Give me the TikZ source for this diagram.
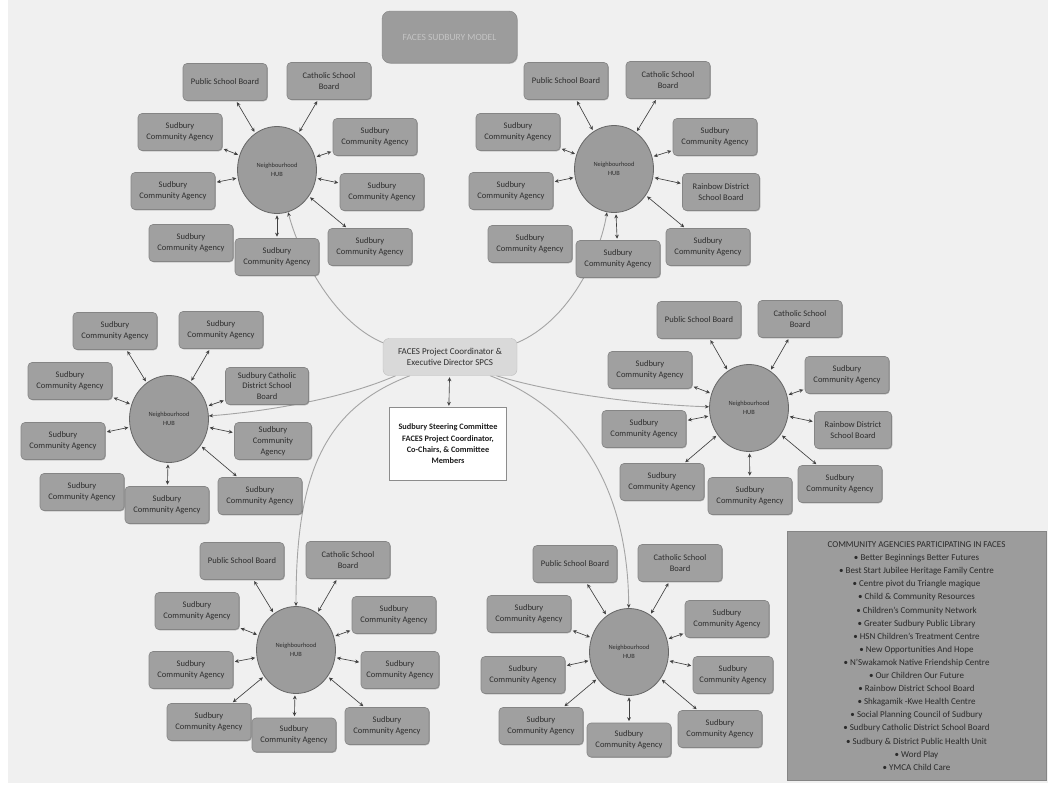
\documentclass[tikz,border=0pt]{standalone}
\usepackage{fontspec}
\setmainfont{Carlito}
\usetikzlibrary{arrows.meta,shapes.geometric,backgrounds,shadows}
\definecolor{bgc}{HTML}{F0F0F0}
\definecolor{boxfill}{HTML}{A0A0A0}
\definecolor{boxedge}{HTML}{858585}
\definecolor{hubfill}{HTML}{9C9C9C}
\definecolor{hubedge}{HTML}{666666}
\definecolor{txt}{HTML}{2E2E2E}
\definecolor{linec}{HTML}{404040}
\definecolor{curvec}{HTML}{A4A4A4}
\definecolor{titletxt}{HTML}{C4C4C4}
\definecolor{coordedge}{HTML}{BDBDBD}
\definecolor{coordfill}{HTML}{D9D9D9}
\definecolor{steeredge}{HTML}{8C8C8C}
\definecolor{steertxt}{HTML}{1E1E1E}
\definecolor{legfill}{HTML}{9C9C9C}
\definecolor{legtxt}{HTML}{2A2A2A}
\begin{document}
\begin{tikzpicture}[x=1pt,y=-1pt,
  agency/.style={draw=boxedge,fill=boxfill,line width=0.6pt,rounded corners=4pt,
    minimum width=84pt,minimum height=37pt,inner sep=1pt,align=center,text=txt,
    font=\fontsize{8.5}{10.8}\selectfont,
    drop shadow={shadow xshift=0.8pt,shadow yshift=-0.8pt,opacity=0.3,fill=black}},
  hub/.style={ellipse,draw=hubedge,fill=hubfill,line width=0.8pt,
    minimum width=79pt,minimum height=87pt,inner sep=0pt,align=center,text=txt,
    font=\fontsize{6.4}{8.5}\selectfont},
  biarrow/.style={draw=linec,line width=0.65pt,shorten <=1.5pt,shorten >=1.5pt,
    {Stealth[length=4pt,width=3.8pt]}-{Stealth[length=4pt,width=3.8pt]}},
  hubcurve/.style={draw=curvec,line width=0.9pt,
    -{Stealth[length=4.2pt,width=3.6pt,color=linec]}}
]
\useasboundingbox (0,0) rectangle (1048,790);

% title
\node[draw=boxedge,fill=hubfill,rounded corners=8pt,minimum width=135pt,minimum height=52pt,
  text=titletxt,font=\fontsize{9.5}{11}\selectfont,
  drop shadow={shadow xshift=0.8pt,shadow yshift=-0.8pt,opacity=0.25,fill=black}]
  (title) at (449.5,37) {FACES SUDBURY MODEL};

% centre
\node[draw=coordedge,fill=coordfill,rounded corners=6pt,minimum width=134pt,
  minimum height=37pt,align=center,inner sep=1pt,text=txt,font=\fontsize{9}{11}\selectfont]
  (coord) at (450,357) {FACES Project Coordinator \&\\Executive Director SPCS};
\node[draw=steeredge,fill=white,minimum width=117pt,minimum height=73pt,align=center,
  inner sep=1pt,text=steertxt,font=\bfseries\fontsize{8.3}{11.3}\selectfont]
  (steer) at (448,444) {Sudbury Steering Committee\\FACES Project Coordinator,\\Co-Chairs, \& Committee\\Members};
\draw[biarrow] (coord) -- (steer);

% ---------- top-left cluster
\node[hub] (tlh) at (277,170) {Neighbourhood\\HUB};
\node[agency] (tl1) at (225,82) {Public School Board};
\node[agency] (tl2) at (329,81) {Catholic School\\Board};
\node[agency] (tl3) at (180,132) {Sudbury\\Community Agency};
\node[agency] (tl4) at (375,137) {Sudbury\\Community Agency};
\node[agency] (tl5) at (173,191) {Sudbury\\Community Agency};
\node[agency] (tl6) at (382,192) {Sudbury\\Community Agency};
\node[agency] (tl7) at (191,243) {Sudbury\\Community Agency};
\node[agency] (tl8) at (277,257) {Sudbury\\Community Agency};
\node[agency] (tl9) at (370,247) {Sudbury\\Community Agency};
\foreach \i in {1,2,3,4,5,6,8,9} \draw[biarrow] (tlh) -- (tl\i);

% ---------- top-right cluster
\node[hub] (trh) at (614,169) {Neighbourhood\\HUB};
\node[agency] (tr1) at (566,81) {Public School Board};
\node[agency] (tr2) at (668,80) {Catholic  School\\Board};
\node[agency] (tr3) at (518,132) {Sudbury\\Community Agency};
\node[agency] (tr4) at (715,137) {Sudbury\\Community Agency};
\node[agency] (tr5) at (511,191) {Sudbury\\Community Agency};
\node[agency,minimum width=77pt] (tr6) at (721,192) {Rainbow District\\School Board};
\node[agency] (tr7) at (530,244) {Sudbury\\Community Agency};
\node[agency] (tr8) at (618,259) {Sudbury\\Community Agency};
\node[agency] (tr9) at (708,247) {Sudbury\\Community Agency};
\foreach \i in {1,2,3,4,5,6,8,9} \draw[biarrow] (trh) -- (tr\i);

% ---------- left cluster
\node[hub] (lh) at (169,419) {Neighbourhood\\HUB};
\node[agency] (l1) at (115,331) {Sudbury\\Community Agency};
\node[agency] (l2) at (221,330) {Sudbury\\Community Agency};
\node[agency] (l3) at (70,381) {Sudbury\\Community Agency};
\node[agency,minimum width=83pt] (l4) at (267,386) {Sudbury Catholic\\District School\\Board};
\node[agency] (l5) at (63,441) {Sudbury\\Community Agency};
\node[agency,minimum width=77pt] (l6) at (273,441) {Sudbury\\Community\\Agency};
\node[agency] (l7) at (82,492) {Sudbury\\Community Agency};
\node[agency] (l8) at (167,505) {Sudbury\\Community Agency};
\node[agency] (l9) at (260,496) {Sudbury\\Community Agency};
\foreach \i in {1,2,3,4,5,6,8,9} \draw[biarrow] (lh) -- (l\i);

% ---------- right cluster
\node[hub] (rh) at (749,408) {Neighbourhood\\HUB};
\node[agency] (r1) at (699,320) {Public School Board};
\node[agency] (r2) at (800,319) {Catholic  School\\Board};
\node[agency] (r3) at (650,370) {Sudbury\\Community Agency};
\node[agency] (r4) at (847,375) {Sudbury\\Community Agency};
\node[agency] (r5) at (644,429) {Sudbury\\Community Agency};
\node[agency,minimum width=77pt] (r6) at (853,430) {Rainbow District\\School Board};
\node[agency] (r7) at (662,482) {Sudbury\\Community Agency};
\node[agency] (r8) at (750,496) {Sudbury\\Community Agency};
\node[agency] (r9) at (840,484) {Sudbury\\Community Agency};
\foreach \i in {1,...,9} \draw[biarrow] (rh) -- (r\i);

% ---------- bottom-left cluster
\node[hub] (blh) at (296,650) {Neighbourhood\\HUB};
\node[agency] (bl1) at (242,561) {Public School Board};
\node[agency] (bl2) at (348,560) {Catholic  School\\Board};
\node[agency] (bl3) at (197,611) {Sudbury\\Community Agency};
\node[agency] (bl4) at (394,615) {Sudbury\\Community Agency};
\node[agency] (bl5) at (191,670) {Sudbury\\Community Agency};
\node[agency,minimum width=78pt] (bl6) at (400,670) {Sudbury\\Community Agency};
\node[agency] (bl7) at (209,722) {Sudbury\\Community Agency};
\node[agency,minimum height=34pt] (bl8) at (294,735) {Sudbury\\Community Agency};
\node[agency] (bl9) at (387,726) {Sudbury\\Community Agency};
\foreach \i in {1,...,9} \draw[biarrow] (blh) -- (bl\i);

% ---------- bottom-right cluster
\node[hub] (brh) at (629,652) {Neighbourhood\\HUB};
\node[agency] (br1) at (575,564) {Public School Board};
\node[agency] (br2) at (680,563) {Catholic  School\\Board};
\node[agency] (br3) at (529,614) {Sudbury\\Community Agency};
\node[agency] (br4) at (727,619) {Sudbury\\Community Agency};
\node[agency] (br5) at (523,675) {Sudbury\\Community Agency};
\node[agency,minimum width=80pt] (br6) at (733,675) {Sudbury\\Community Agency};
\node[agency] (br7) at (541,726) {Sudbury\\Community Agency};
\node[agency,minimum height=34pt] (br8) at (629,740) {Sudbury\\Community Agency};
\node[agency] (br9) at (720,729) {Sudbury\\Community Agency};
\foreach \i in {1,...,9} \draw[biarrow] (brh) -- (br\i);

% ---------- legend
\node[draw=boxedge,fill=legfill,minimum width=259pt,minimum height=249pt,inner sep=0pt,
  align=center,text=legtxt,font=\fontsize{9}{13.1}\selectfont]
  (legend) at (916.5,656) {COMMUNITY AGENCIES PARTICIPATING IN FACES\\
  • Better Beginnings Better Futures\\
  • Best Start Jubilee Heritage Family Centre\\
  • Centre pivot du Triangle magique\\
  • Child \& Community Resources\\
  • Children’s Community Network\\
  • Greater Sudbury Public Library\\
  • HSN Children’s Treatment Centre\\
  • New Opportunities And Hope\\
  • N’Swakamok Native Friendship Centre\\
  • Our Children Our Future\\
  • Rainbow District School Board\\
  • Shkagamik -Kwe Health Centre\\
  • Social Planning Council of Sudbury\\
  • Sudbury Catholic District School Board\\
  • Sudbury \& District Public Health Unit\\
  • Word Play\\
  • YMCA Child Care};

% ---------- background and hub curves
\begin{scope}[on background layer]
  \fill[white] (0,0) rectangle (1048,790);
  \fill[bgc] (8,0) rectangle (1048,783);
  \draw[hubcurve] (coord.168) .. controls (330,320) and (298,250) .. (tlh);
  \draw[hubcurve] (coord.12) .. controls (570,320) and (600,255) .. (trh);
  \draw[hubcurve] (coord.199) .. controls (340,400) and (260,412) .. (lh);
  \draw[hubcurve] (coord.-22) .. controls (560,395) and (650,405) .. (rh);
  \draw[hubcurve] (coord.205) .. controls (320,410) and (296,480) .. (blh);
  \draw[hubcurve] (coord.-25) .. controls (580,410) and (628,490) .. (brh);
\end{scope}
\end{tikzpicture}
\end{document}
